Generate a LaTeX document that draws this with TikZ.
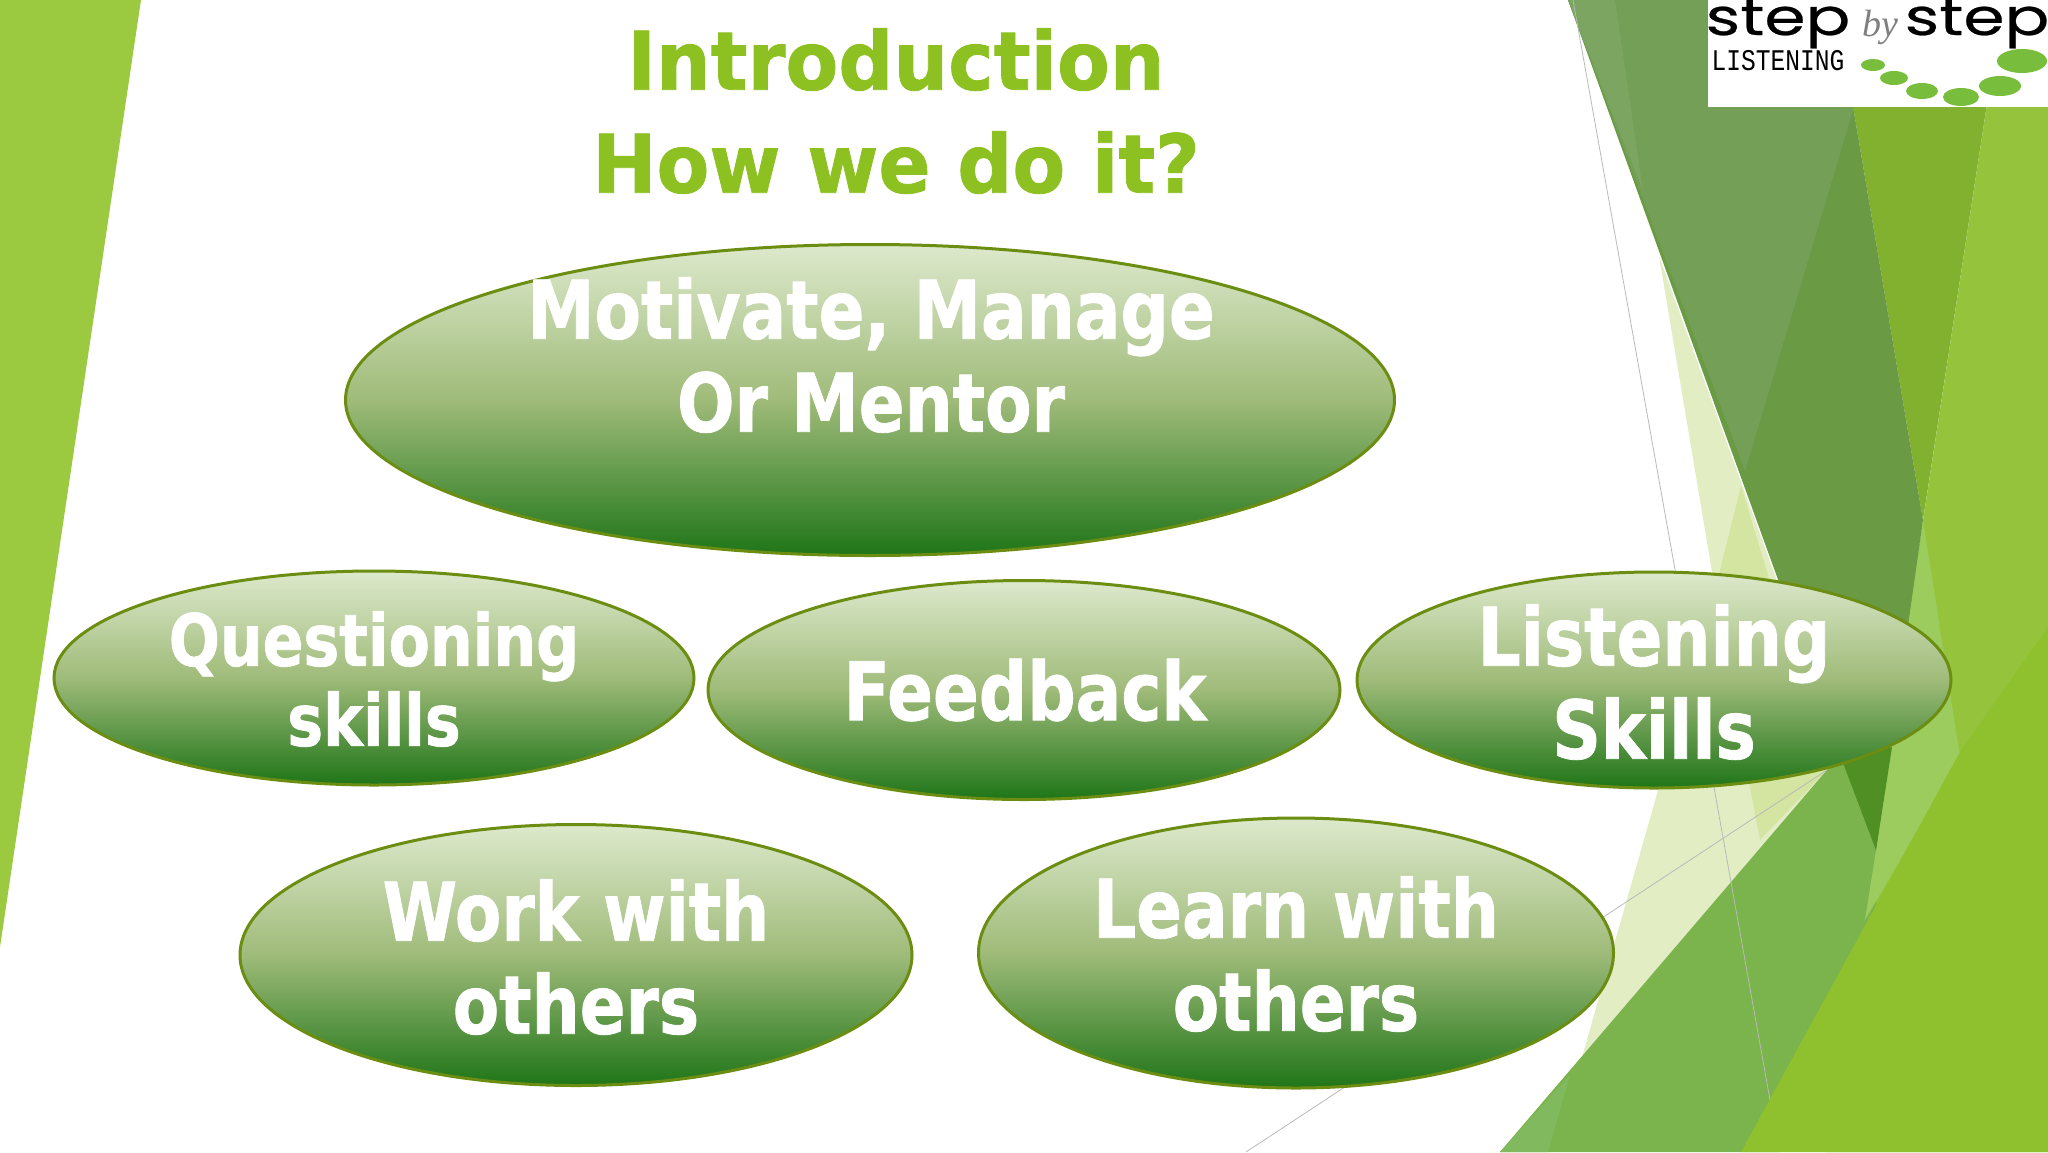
\documentclass[tikz,border=0pt]{standalone}
\usepackage{fontspec}
\setmainfont{DejaVu Sans}[FakeStretch=0.835, BoldFeatures={FakeBold=1}]
\newfontfamily\titlefont{DejaVu Sans}[FakeStretch=0.95, BoldFeatures={FakeBold=1}]
\newfontfamily\logofont{Poppins}[FakeStretch=1.3, FakeBold=0.5]
\newfontfamily\listenfont{Liberation Mono}[FakeStretch=0.82]
\newfontfamily\byfont{Liberation Serif}
\usetikzlibrary{shapes.geometric}

\definecolor{titlegreen}{HTML}{8CC121}
\definecolor{bubbleline}{HTML}{6B8E12}
\definecolor{dotgreen}{HTML}{78BE3C}
\definecolor{bubbletop}{HTML}{DDE9CC}
\definecolor{bubblemid}{HTML}{9FBB79}
\definecolor{bubblelow}{HTML}{1F7518}
\pgfdeclareverticalshading{bubbleshade}{100bp}{
	color(0bp)=(bubblelow);
	color(25bp)=(bubblelow);
	color(50bp)=(bubblemid);
	color(75bp)=(bubbletop);
	color(100bp)=(bubbletop)}

\tikzset{
	bubble/.style = {ellipse, draw = bubbleline, line width = 3pt, shading = bubbleshade, inner sep = 0pt, outer sep = 0pt},
	bubbletext/.style = {text = white, align = center, font = \bfseries\fontsize{81}{93}\selectfont},
	smalltext/.style = {text = white, align = center, font = \bfseries\fontsize{72}{80}\selectfont},
	thinline/.style = {draw = gray!55, line width = 0.8pt},
	dot/.style = {fill = dotgreen}
}

\begin{document}
\begin{tikzpicture}[x = 1pt, y = -1pt]
	\useasboundingbox (0,0) rectangle (2048,1152);
	\begin{scope}
		\clip (0,0) rectangle (2048,1152);

		% left wedge
		\fill [color = {rgb,255:red,155;green,201;blue,63}] (0,0) -- (141,0) -- (0,947) -- cycle;

		% right facets
		\fill [color = {rgb,255:red,226;green,237;blue,196}] (1659,256) -- (1715,590) -- (1555,1152) -- (1500,1152) -- (1844,750) -- (1776,578) -- cycle;
		\fill [color = {rgb,255:red,211;green,229;blue,160}] (1741,486) -- (1827,770) -- (1760,840) -- (1750,787) -- (1715,590) -- cycle;
		\fill [color = {rgb,255:red,129;green,177;blue,47}] (1835,0) -- (2003,0) -- (1923,520) -- cycle;
		\fill [color = {rgb,255:red,149;green,196;blue,60}] (2003,0) -- (2048,0) -- (2048,1152) -- (1826,1152) -- cycle;
		\fill [color = {rgb,255:red,123;green,179;blue,76}] (1500,1152) -- (1844,750) -- (1876,850) -- (1876,925) -- (1780,1152) -- cycle;
		\fill [color = {rgb,255:red,129;green,185;blue,95}] (1500,1152) -- (1548,1152) -- (1570,1075) -- cycle;
		\fill [color = {rgb,255:red,156;green,203;blue,94}] (1923,520) -- (1960,757) -- (1865,920) -- (1876,850) -- cycle;
		\fill [color = {rgb,255:red,106;green,154;blue,67}] (1568,0) -- (1835,0) -- (1923,520) -- (1876,850) -- cycle;
		\fill [color = {rgb,255:red,116;green,159;blue,87}] (1568,0) -- (1745,471) -- (1886,0) -- cycle;
		\fill [color = {rgb,255:red,123;green,165;blue,96}] (1568,0) -- (1615,0) -- (1643,191) -- cycle;
		\fill [color = {rgb,255:red,79;green,143;blue,35}] (1843,763) -- (1892,747) -- (1876,850) -- cycle;
		\fill [color = {rgb,255:red,143;green,192;blue,45}] (2048,627) -- (1960,752) -- (1741,1152) -- (2048,1152) -- cycle;

		% thin lines
		\draw [thinline] (1573,0) -- (1770,1100);
		\draw [thinline] (1827,770) -- (1246,1152);

		% logo
		\fill [white] (1708,0) rectangle (2048,107);
		\fill [dot] (1873,65) ellipse [x radius = 12, y radius = 6];
		\fill [dot] (1894,78) ellipse [x radius = 14, y radius = 7];
		\fill [dot] (1922,91) ellipse [x radius = 16, y radius = 8];
		\fill [dot] (1961,97) ellipse [x radius = 18, y radius = 9];
		\fill [dot] (2000,86) ellipse [x radius = 21, y radius = 10];
		\fill [dot] (2022,61) ellipse [x radius = 25, y radius = 12];
		\node [anchor = base, inner sep = 0pt, font = \logofont\fontsize{51}{51}\selectfont] (stepleft) at (1778,35) {step};
		\node [anchor = base, inner sep = 0pt, font = \logofont\fontsize{51}{51}\selectfont] (stepright) at (1977,35) {step};
		\node [anchor = base, inner sep = 0pt, text = gray, font = \byfont\itshape\fontsize{38}{38}\selectfont] (bytext) at (1880,36) {by};
		\node [anchor = base, inner sep = 0pt, font = \listenfont\fontsize{30}{30}\selectfont] (listening) at (1778,70) {LISTENING};
	\end{scope}

	% title
	\node [text = titlegreen, align = center, font = \titlefont\bfseries\fontsize{81}{103}\selectfont] (title) at (896,111) {Introduction\\How we do it?};

	% bubbles
	\node [bubble, minimum width = 1049pt, minimum height = 311pt] (motivate) at (870,400) {};
	\node [bubble, minimum width = 640pt, minimum height = 214pt] (questioning) at (374,678) {};
	\node [bubble, minimum width = 632pt, minimum height = 219pt] (feedback) at (1024,690) {};
	\node [bubble, minimum width = 594pt, minimum height = 216pt] (listeningskills) at (1654,680) {};
	\node [bubble, minimum width = 672pt, minimum height = 261pt] (workwith) at (576,955) {};
	\node [bubble, minimum width = 635pt, minimum height = 270pt] (learnwith) at (1296,953) {};

	\node [bubbletext] (motivatetext) at (871,355) {Motivate, Manage\\Or Mentor};
	\node [smalltext] (questioningtext) at (374,679) {Questioning\\skills};
	\node [bubbletext] (feedbacktext) at (1025,690) {Feedback};
	\node [bubbletext] (listeningtext) at (1654,682) {Listening\\Skills};
	\node [bubbletext] (workwithtext) at (576,957) {Work with\\others};
	\node [bubbletext] (learnwithtext) at (1296,954) {Learn with\\others};
\end{tikzpicture}
\end{document}
